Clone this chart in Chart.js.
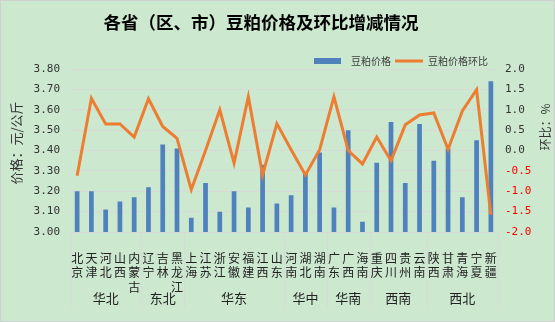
<!DOCTYPE html>
<html>
<head>
<meta charset="utf-8">
<script src="https://cdn.jsdelivr.net/npm/chart.js@4/dist/chart.umd.min.js"></script>
<style>
  html, body { margin: 0; padding: 0; background: #cce8cf; }
  #wrap { width: 555px; height: 322px; }
</style>
</head>
<body>
<div id="wrap"><canvas id="chart" width="555" height="322"></canvas></div>
<script>
const provinces = ['北京', '天津', '河北', '山西', '内蒙古', '辽宁', '吉林', '黑龙江',
  '上海', '江苏', '浙江', '安徽', '福建', '江西', '山东', '河南', '湖北', '湖南',
  '广东', '广西', '海南', '重庆', '四川', '贵州', '云南', '陕西', '甘肃', '青海', '宁夏', '新疆'];
const regions = ['华北', '东北', '华东', '华中', '华南', '西南', '西北'];
const regionSizes = [5, 3, 7, 3, 3, 4, 5];

// 豆粕价格 (元/公斤)
const prices = [3.20, 3.20, 3.11, 3.15, 3.17, 3.22, 3.43, 3.41, 3.07, 3.24,
  3.10, 3.20, 3.12, 3.33, 3.14, 3.18, 3.29, 3.39, 3.12, 3.50,
  3.05, 3.34, 3.54, 3.24, 3.53, 3.35, 3.41, 3.17, 3.45, 3.74];
// 环比 (%)
const changes = [-0.62, 1.28, 0.65, 0.65, 0.33, 1.27, 0.59, 0.30, -0.96, 0.00,
  1.00, -0.31, 1.32, -0.60, 0.66, 0.02, -0.60, 0.02, 1.32, 0.00,
  -0.33, 0.33, -0.25, 0.63, 0.87, 0.92, 0.03, 0.97, 1.49, -1.58];

const priceTicks = { min: 3.0, max: 3.8, step: 0.1 };
const changeTicks = { min: -2.0, max: 2.0, step: 0.5 };

const CJK = '"Noto Sans CJK SC", sans-serif';
const NUM = '"DejaVu Sans Mono", monospace';
const BLUE = '#4f81bd';
const ORANGE = '#ed7d31';
const GRID = '#d9d9d9';

// title, legend, axis titles and the region row under the category labels
const decor = {
  id: 'decor',
  afterDraw(chart) {
    const { ctx, chartArea, scales } = chart;
    const xs = scales.x;
    ctx.save();

    ctx.fillStyle = '#000';
    ctx.font = 'bold 17.5px ' + CJK;
    ctx.textAlign = 'center';
    ctx.textBaseline = 'middle';
    ctx.fillText('各省（区、市）豆粕价格及环比增减情况', 261, 22);

    // legend
    const ds = chart.data.datasets;
    ctx.font = '10px ' + CJK;
    ctx.textAlign = 'left';
    ctx.fillStyle = ds[1].backgroundColor;
    ctx.fillRect(314, 58, 27, 6);
    ctx.fillStyle = '#404040';
    ctx.fillText(ds[1].label, 351, 61.5);
    ctx.strokeStyle = ds[0].borderColor;
    ctx.lineWidth = 3;
    ctx.beginPath();
    ctx.moveTo(395, 61);
    ctx.lineTo(423, 61);
    ctx.stroke();
    ctx.fillText(ds[0].label, 428, 61.5);

    // axis titles
    ctx.fillStyle = '#333';
    ctx.textAlign = 'center';
    ctx.font = '13px ' + CJK;
    ctx.save();
    ctx.translate(16.5, 143);
    ctx.rotate(-Math.PI / 2);
    ctx.fillText('价格：元/公斤', 0, 0);
    ctx.restore();
    ctx.font = '12px ' + CJK;
    ctx.save();
    ctx.translate(545, 127);
    ctx.rotate(-Math.PI / 2);
    ctx.fillText('环比：%', 0, 0);
    ctx.restore();

    // region separators and names
    const half = (xs.getPixelForValue(1) - xs.getPixelForValue(0)) / 2;
    const top = chartArea.bottom;
    const bottom = 308;
    ctx.strokeStyle = GRID;
    ctx.lineWidth = 1;
    ctx.font = '13px ' + CJK;
    ctx.fillStyle = '#222';
    let start = 0;
    const sep = px => {
      const xx = Math.round(px) + 0.5;
      ctx.beginPath();
      ctx.moveTo(xx, top);
      ctx.lineTo(xx, bottom);
      ctx.stroke();
    };
    sep(xs.getPixelForValue(0) - half);
    regions.forEach((name, i) => {
      const end = start + regionSizes[i] - 1;
      const left = xs.getPixelForValue(start) - half;
      const right = xs.getPixelForValue(end) + half;
      sep(right);
      ctx.fillText(name, (left + right) / 2, 298);
      start = end + 1;
    });

    // outer frame
    ctx.strokeStyle = '#d0d0d0';
    ctx.strokeRect(0.5, 0.5, chart.width - 1, chart.height - 1);
    ctx.restore();
  }
};

new Chart(document.getElementById('chart'), {
  data: {
    labels: provinces.map(p => p.split('')),
    datasets: [
      {
        type: 'line',
        label: '豆粕价格环比',
        data: changes,
        yAxisID: 'y1',
        borderColor: ORANGE,
        backgroundColor: ORANGE,
        borderWidth: 3,
        pointRadius: 0,
        tension: 0,
        order: 0
      },
      {
        type: 'bar',
        label: '豆粕价格',
        data: prices,
        yAxisID: 'y',
        backgroundColor: BLUE,
        categoryPercentage: 1,
        barPercentage: 0.33,
        order: 1
      }
    ]
  },
  options: {
    responsive: false,
    animation: false,
    layout: { padding: { top: 69, left: 0, right: 0, bottom: 0 } },
    plugins: {
      legend: { display: false },
      title: { display: false },
      tooltip: { enabled: false }
    },
    scales: {
      x: {
        grid: { display: false },
        border: { display: false },
        ticks: {
          autoSkip: false,
          maxRotation: 0,
          padding: 11,
          color: '#222',
          font: { family: CJK, size: 12, lineHeight: 1.2 }
        },
        afterFit(scale) { scale.height = 90; }
      },
      y: {
        position: 'left',
        min: priceTicks.min,
        max: priceTicks.max,
        grid: { color: GRID, drawTicks: false },
        border: { display: false },
        ticks: {
          stepSize: priceTicks.step,
          padding: 10,
          color: '#333',
          font: { family: NUM, size: 11 },
          callback: v => v.toFixed(2)
        },
        afterFit(scale) { scale.width = 70; }
      },
      y1: {
        position: 'right',
        min: changeTicks.min,
        max: changeTicks.max,
        grid: { display: false, drawTicks: false },
        border: { display: false },
        ticks: {
          stepSize: changeTicks.step,
          padding: 7,
          color: ctx => (ctx.tick && ctx.tick.value < 0 ? '#ff0000' : '#333'),
          font: { family: NUM, size: 11 },
          callback: v => v.toFixed(1)
        },
        afterFit(scale) { scale.width = 57; }
      }
    }
  },
  plugins: [decor]
});
</script>
</body>
</html>
